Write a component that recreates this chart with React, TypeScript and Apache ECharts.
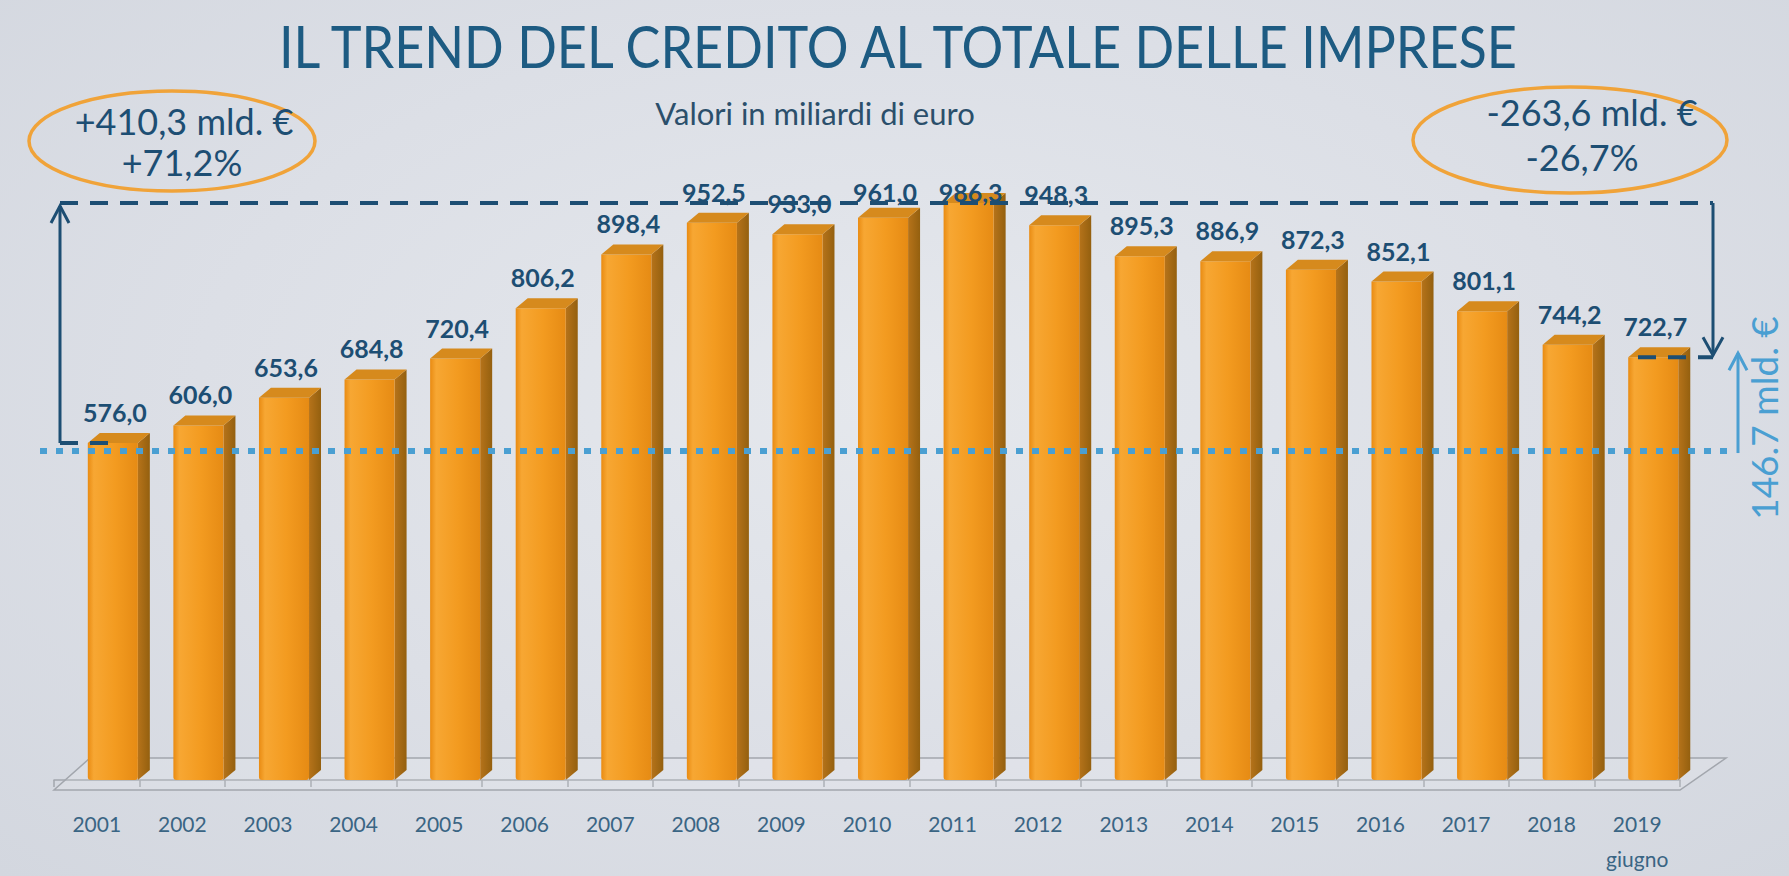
import React, { useEffect, useRef } from "react";
import * as echarts from "echarts";

const years = ["2001", "2002", "2003", "2004", "2005", "2006", "2007", "2008", "2009", "2010", "2011", "2012", "2013", "2014", "2015", "2016", "2017", "2018", "2019"];
const credit = [576.0, 606.0, 653.6, 684.8, 720.4, 806.2, 898.4, 952.5, 933.0, 961.0, 986.3, 948.3, 895.3, 886.9, 872.3, 852.1, 801.1, 744.2, 722.7];
const lastYearNote = "giugno";
const titleText = "IL TREND DEL CREDITO AL TOTALE DELLE IMPRESE";
const subtitleText = "Valori in miliardi di euro";
const riseLines = ["+410,3 mld. €", "+71,2%"];
const fallLines = ["-263,6 mld. €", "-26,7%"];
const gapText = "146.7 mld. €";
const yMin = 0;
const yMax = 1000;

const DARK = "#1d4e73";
const LIGHT = "#4a9fd2";
const ORANGE_RING = "#f0a339";

const fmt = (v: number) => v.toFixed(1).replace(".", ",");

export default function App() {
  const ref = useRef<HTMLDivElement>(null);

  useEffect(() => {
    document.body.style.margin = "0";
    if (!ref.current) return;
    const chart = echarts.init(ref.current, null, { renderer: "svg" });

    const frontGrad = new echarts.graphic.LinearGradient(0, 0, 1, 0, [
      { offset: 0, color: "#e98b12" },
      { offset: 0.12, color: "#f7a733" },
      { offset: 0.55, color: "#f39b20" },
      { offset: 1, color: "#e68b14" },
    ]);
    const sideGrad = new echarts.graphic.LinearGradient(0, 0, 1, 0, [
      { offset: 0, color: "#b6731a" },
      { offset: 1, color: "#94600f" },
    ]);

    const renderItem = (_params: any, api: any) => {
      const i = api.value(0);
      const v = api.value(1);
      const t = api.coord([i, v]);
      const b = api.coord([i, 0]);
      const cw = api.size([1, 0])[0];
      const w = cw * 0.585;
      const x0 = t[0] - cw * 0.105;
      const d = cw * 0.14;
      const dy = 10;
      const yT = t[1];
      const yB = b[1];
      const ly = Math.max(yT - 31, 192);
      return {
        type: "group",
        children: [
          {
            type: "polygon",
            shape: { points: [[x0 + w, yT], [x0 + w + d, yT - dy], [x0 + w + d, yB - dy], [x0 + w, yB]] },
            style: { fill: sideGrad },
          },
          {
            type: "rect",
            shape: { x: x0, y: yT, width: w, height: yB - yT, r: [0, 0, 3, 3] },
            style: { fill: frontGrad },
          },
          {
            type: "polygon",
            shape: { points: [[x0, yT], [x0 + d, yT - dy], [x0 + w + d, yT - dy], [x0 + w, yT]] },
            style: { fill: "#d68a1d" },
          },
          {
            type: "text",
            x: x0 + w / 2 + 2,
            y: ly,
            z2: 20,
            style: {
              text: fmt(v),
              fill: DARK,
              fontFamily: "Lato",
              fontWeight: "bold",
              fontSize: 25,
              align: "center",
              verticalAlign: "middle",
            },
          },
        ],
      };
    };

    const option: any = {
      animation: false,
      backgroundColor: "transparent",
      grid: { left: 54, right: 109, top: 195, bottom: 96 },
      xAxis: {
        type: "category",
        data: years,
        offset: 10,
        axisLine: { show: true, lineStyle: { color: "#a2a6ad", width: 1.5 } },
        axisTick: { show: true, length: 7, interval: 0, lineStyle: { color: "#a2a6ad", width: 1.5 } },
        axisLabel: {
          interval: 0,
          margin: 20,
          formatter: (val: string, idx: number) =>
            idx === years.length - 1 ? `{y|${val}}\n{g|${lastYearNote}}` : `{y|${val}}`,
          rich: {
            y: { fontFamily: "Lato", fontSize: 21, color: "#3a6584", lineHeight: 26 },
            g: { fontFamily: "Lato", fontSize: 21, color: "#3a6584", lineHeight: 44 },
          },
        },
      },
      yAxis: {
        type: "value",
        min: yMin,
        max: yMax,
        show: false,
        splitLine: { show: false },
      },
      series: [
        {
          type: "custom",
          renderItem,
          encode: { x: 0, y: 1 },
          data: credit.map((v, i) => [i, v]),
          z: 3,
        },
      ],
    };
    chart.setOption(option);

    const yOf = (v: number) => chart.convertToPixel({ yAxisIndex: 0 }, v) as number;
    const yHi = yOf(Math.max(...credit));
    const yLo = yOf(credit[0]) + 8;
    const yEnd = yOf(credit[credit.length - 1]);
    const xL = 60;
    const xR = 1713;
    const xG = 1738;

    const dashed = { stroke: DARK, lineWidth: 4, lineDash: [18, 12] };
    const solid = { stroke: DARK, lineWidth: 3, fill: "none" };
    const ringText = (text: string, x: number, y: number) => ({
      type: "text",
      x,
      y,
      style: { text, fill: DARK, fontFamily: "Lato", fontSize: 36, align: "center", verticalAlign: "middle" },
    });

    const graphic: any[] = [
      {
        type: "polygon",
        z: 1,
        shape: { points: [[54, 790], [1680, 790], [1726, 758], [90, 758]] },
        style: { fill: "rgba(255,255,255,0.12)", stroke: "#a2a6ad", lineWidth: 1.5 },
      },
      {
        type: "text",
        x: 898,
        y: 46,
        scaleX: 0.9,
        style: { text: titleText, fill: "#1d5b82", fontFamily: "Lato", fontSize: 58, align: "center", verticalAlign: "middle" },
      },
      {
        type: "text",
        x: 815,
        y: 113,
        style: { text: subtitleText, fill: "#2b4f6b", fontFamily: "Lato", fontSize: 31, align: "center", verticalAlign: "middle" },
      },
      { type: "ellipse", shape: { cx: 172, cy: 141, rx: 143, ry: 50 }, style: { fill: "none", stroke: ORANGE_RING, lineWidth: 3.5 } },
      ringText(riseLines[0], 184, 121),
      ringText(riseLines[1], 182, 162),
      { type: "ellipse", shape: { cx: 1570, cy: 140, rx: 157, ry: 53 }, style: { fill: "none", stroke: ORANGE_RING, lineWidth: 3.5 } },
      ringText(fallLines[0], 1592, 112),
      ringText(fallLines[1], 1582, 157),
      // dotted light-blue baseline at 2001 level
      { type: "line", z: 50, shape: { x1: 40, y1: yLo, x2: 1734, y2: yLo }, style: { stroke: LIGHT, lineWidth: 6, lineDash: [7, 9] } },
      // top dashed line at max level
      { type: "line", z: 60, shape: { x1: xL, y1: yHi, x2: xR, y2: yHi }, style: dashed },
      // left bracket bottom
      { type: "line", z: 60, shape: { x1: xL, y1: yLo - 8, x2: 115, y2: yLo - 8 }, style: dashed },
      // left up arrow
      { type: "line", z: 60, shape: { x1: xL, y1: yLo - 8, x2: xL, y2: yHi + 3 }, style: solid },
      { type: "polyline", z: 60, shape: { points: [[xL - 9, yHi + 20], [xL, yHi + 3], [xL + 9, yHi + 20]] }, style: solid },
      // right down arrow
      { type: "line", z: 60, shape: { x1: xR, y1: yHi, x2: xR, y2: yEnd - 2 }, style: solid },
      { type: "polyline", z: 60, shape: { points: [[xR - 10, yEnd - 20], [xR, yEnd - 2], [xR + 10, yEnd - 20]] }, style: solid },
      // dash at 2019 level
      { type: "line", z: 60, shape: { x1: 1638, y1: yEnd, x2: xR, y2: yEnd }, style: dashed },
      // light-blue gap arrow
      { type: "line", z: 60, shape: { x1: xG, y1: yLo + 2, x2: xG, y2: yEnd - 4 }, style: { stroke: LIGHT, lineWidth: 3 } },
      { type: "polyline", z: 60, shape: { points: [[xG - 9, yEnd + 13], [xG, yEnd - 4], [xG + 9, yEnd + 13]] }, style: { stroke: LIGHT, lineWidth: 3, fill: "none" } },
      {
        type: "text",
        x: 1763,
        y: 418,
        rotation: Math.PI / 2,
        style: { text: gapText, fill: LIGHT, fontFamily: "Lato", fontSize: 37, align: "center", verticalAlign: "middle" },
      },
    ];
    chart.setOption({ graphic });

    return () => chart.dispose();
  }, []);

  return (
    <div
      ref={ref}
      style={{
        width: 1789,
        height: 876,
        background: "radial-gradient(ellipse at 50% 45%, #e5e8ed 0%, #dcdfe6 55%, #d3d7df 100%)",
      }}
    />
  );
}
